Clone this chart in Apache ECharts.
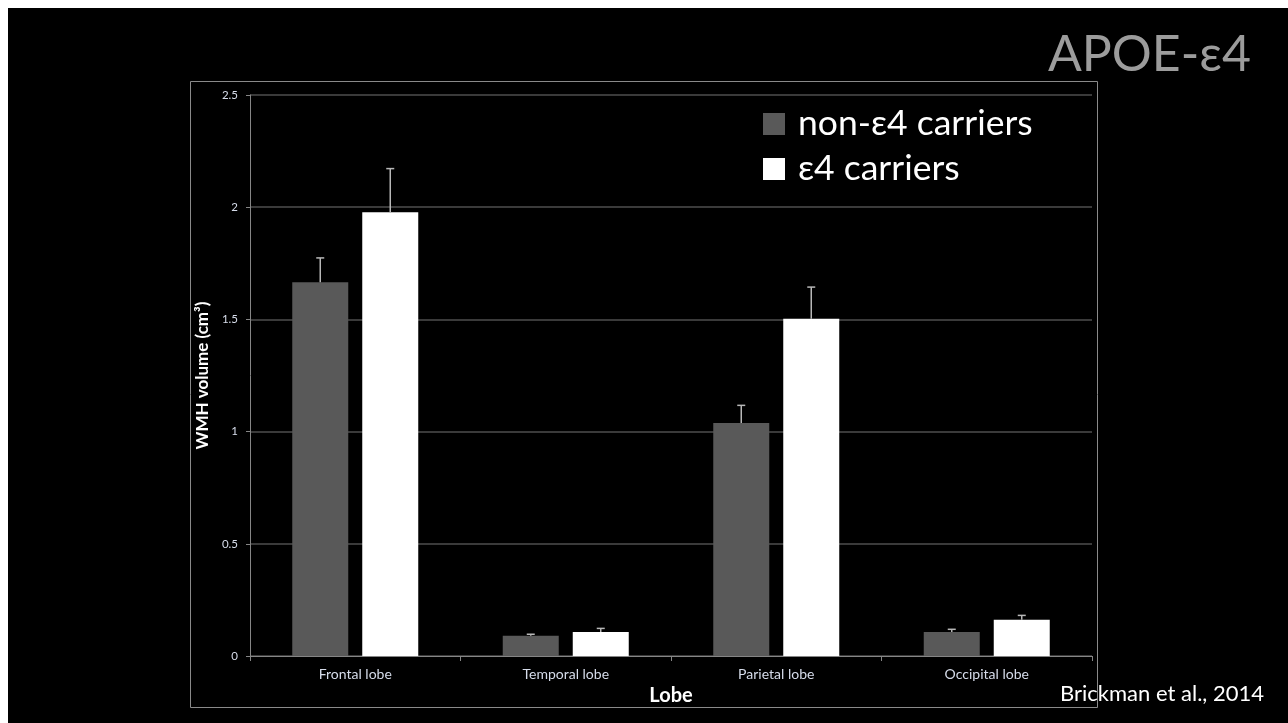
<!DOCTYPE html>
<html>
<head>
<meta charset="utf-8">
<style>
  html, body { margin: 0; padding: 0; background: #000; }
  #chart { width: 1288px; height: 723px; }
</style>
<script src="https://cdn.jsdelivr.net/npm/echarts@6/dist/echarts.min.js"></script>
</head>
<body>
<div id="chart"></div>
<script>
// WMH volume by lobe, APOE-ε4 carriers vs non-carriers (mean + SE)
const categories = ['Frontal lobe', 'Temporal lobe', 'Parietal lobe', 'Occipital lobe'];
const seriesNames = ['non-ε4 carriers', 'ε4 carriers'];
const nonCarrierMean = [1.665, 0.090, 1.038, 0.107];
const nonCarrierUpper = [1.774, 0.097, 1.117, 0.119];
const carrierMean = [1.977, 0.107, 1.503, 0.162];
const carrierUpper = [2.172, 0.123, 1.644, 0.181];
const yTicks = { min: 0, max: 2.5, interval: 0.5 };

const FONT = 'Lato, "Noto Sans", "DejaVu Sans", sans-serif';
const BAR_W = 56;
const BAR_GAP = 14;

// vertical whisker with a small cap, shifted to sit over its bar
function errorBar(offsetSign) {
  return function (params, api) {
    const idx = api.value(0);
    const base = api.coord([idx, api.value(1)]);
    const top = api.coord([idx, api.value(2)]);
    const x = base[0] + offsetSign * (BAR_W + BAR_GAP) / 2;
    const style = { stroke: '#b8b8b8', lineWidth: 1.5 };
    return {
      type: 'group',
      children: [
        { type: 'line', shape: { x1: x, y1: base[1], x2: x, y2: top[1] }, style },
        { type: 'line', shape: { x1: x - 4, y1: top[1], x2: x + 4, y2: top[1] }, style }
      ]
    };
  };
}

const chart = echarts.init(document.getElementById('chart'));
chart.setOption({
  backgroundColor: '#000',
  animation: false,
  textStyle: { fontFamily: FONT },
  graphic: [
    { type: 'rect', shape: { x: 0, y: 0, width: 1288, height: 8 }, style: { fill: '#fff' }, z: 0 },
    { type: 'rect', shape: { x: 0, y: 0, width: 8, height: 723 }, style: { fill: '#fff' }, z: 0 },
    { type: 'rect', shape: { x: 190.5, y: 81.5, width: 907, height: 626 },
      style: { fill: 'none', stroke: '#8a8a8a', lineWidth: 1 }, z: 0 },
    { type: 'text', right: 37, top: 30,
      style: { text: 'APOE-ε4', fill: '#9c9c9c', font: '50px ' + FONT } },
    { type: 'text', right: 24, top: 683,
      style: { text: 'Brickman et al., 2014', fill: '#ffffff', font: '22px ' + FONT } }
  ],
  legend: {
    data: seriesNames,
    orient: 'vertical',
    left: 758,
    top: 100,
    icon: 'rect',
    itemWidth: 22,
    itemHeight: 22,
    itemGap: 7,
    selectedMode: false,
    textStyle: { color: '#fff', fontSize: 35.5, lineHeight: 38, fontFamily: FONT, padding: [0, 0, 0, 8] }
  },
  grid: { left: 250, top: 95, right: 196, bottom: 67 },
  xAxis: {
    type: 'category',
    data: categories,
    name: 'Lobe',
    nameLocation: 'middle',
    nameGap: 30,
    nameTextStyle: { color: '#fff', fontSize: 20, fontWeight: 'bold', fontFamily: FONT },
    axisLine: { lineStyle: { color: '#868686', width: 1 } },
    axisTick: { show: true, length: 5, lineStyle: { color: '#868686' } },
    axisLabel: { color: '#d6dcea', fontSize: 14, margin: 11, fontFamily: FONT }
  },
  yAxis: {
    type: 'value',
    min: yTicks.min,
    max: yTicks.max,
    interval: yTicks.interval,
    name: 'WMH volume (cm³)',
    nameLocation: 'middle',
    nameGap: 32,
    nameTextStyle: { color: '#fff', fontSize: 17, fontWeight: 'bold', fontFamily: FONT },
    axisLine: { show: true, lineStyle: { color: '#868686', width: 1 } },
    axisTick: { show: true, length: 4, lineStyle: { color: '#868686' } },
    axisLabel: { color: '#d6dcea', fontSize: 11.5, margin: 12, fontFamily: FONT },
    splitLine: { show: true, lineStyle: { color: '#4e4e4e', width: 1.5 } }
  },
  series: [
    {
      name: seriesNames[0],
      type: 'bar',
      data: nonCarrierMean,
      barWidth: BAR_W,
      barGap: (BAR_GAP / BAR_W * 100) + '%',
      itemStyle: { color: '#595959' },
      z: 2
    },
    {
      name: seriesNames[1],
      type: 'bar',
      data: carrierMean,
      barWidth: BAR_W,
      itemStyle: { color: '#ffffff' },
      z: 2
    },
    {
      type: 'custom',
      renderItem: errorBar(-1),
      data: categories.map((c, i) => [i, nonCarrierMean[i], nonCarrierUpper[i]]),
      encode: { x: 0, y: [1, 2] },
      z: 3,
      silent: true
    },
    {
      type: 'custom',
      renderItem: errorBar(1),
      data: categories.map((c, i) => [i, carrierMean[i], carrierUpper[i]]),
      encode: { x: 0, y: [1, 2] },
      z: 3,
      silent: true
    }
  ]
});
</script>
</body>
</html>
